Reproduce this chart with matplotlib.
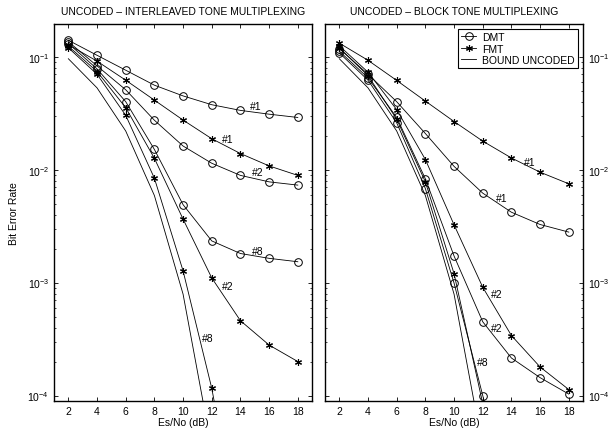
import numpy as np
import matplotlib
matplotlib.use("Agg")
import matplotlib.pyplot as plt
from matplotlib.ticker import LogLocator, NullFormatter

# ----------------------------
# Settings
# ----------------------------
plt.rcParams['font.family'] = ['Liberation Sans', 'DejaVu Sans']
plt.rcParams['mathtext.fontset'] = 'custom'
plt.rcParams['mathtext.rm'] = 'Liberation Sans'
plt.rcParams['mathtext.it'] = 'Liberation Sans:italic'
plt.rcParams['font.size'] = 7.5
FS = 7.5

# ----------------------------
# Data
# ----------------------------
snr = [2, 4, 6, 8, 10, 12, 14, 16, 18]
nan = np.nan

# bound uncoded (same in both panels)
bound = [0.096, 0.053, 0.022, 0.0059, 7.9e-4, 3.4e-5, nan, nan, nan]

# interleaved tone multiplexing
il_dmt1 = [0.140, 0.103, 0.076, 0.056, 0.045, 0.0376, 0.0335, 0.031, 0.029]
il_dmt2 = [0.136, 0.083, 0.051, 0.0274, 0.0162, 0.0114, 0.0089, 0.0078, 0.0073]
il_dmt8 = [0.131, 0.078, 0.040, 0.0151, 0.0049, 0.00234, 0.00181, 0.00164, 0.00153]
il_fmt1 = [0.128, 0.0914, 0.062, 0.0413, 0.0275, 0.0188, 0.0139, 0.0108, 0.0089]
il_fmt2 = [0.124, 0.074, 0.0354, 0.0126, 0.00365, 0.0011, 4.6e-4, 2.8e-4, 2.0e-4]
il_fmt8 = [0.120, 0.070, 0.0303, 0.0084, 0.00127, 1.16e-4, 5e-6, nan, nan]

# block tone multiplexing
bl_dmt1 = [0.118, 0.070, 0.040, 0.0209, 0.0107, 0.0062, 0.0042, 0.00327, 0.0028]
bl_dmt2 = [0.112, 0.065, 0.029, 0.0083, 0.00172, 4.5e-4, 2.15e-4, 1.44e-4, 1.03e-4]
bl_dmt8 = [0.108, 0.062, 0.026, 0.0068, 9.9e-4, 1.0e-4, 1e-5, nan, nan]
bl_fmt1 = [0.132, 0.093, 0.0617, 0.0405, 0.0267, 0.0179, 0.0127, 0.0095, 0.0075]
bl_fmt2 = [0.125, 0.073, 0.034, 0.0123, 0.00325, 9.1e-4, 3.4e-4, 1.79e-4, 1.13e-4]
bl_fmt8 = [0.120, 0.068, 0.028, 0.0078, 0.0012, 8.5e-5, 5e-6, nan, nan]

# curve labels: (x, y, text)
il_labels = [(15.1, 0.037, '#1'), (13.1, 0.0186, '#1'), (15.2, 0.0095, '#2'),
             (15.2, 0.0019, '#8'), (13.1, 9.3e-4, '#2'), (11.7, 3.2e-4, '#8')]
bl_labels = [(15.3, 0.0118, '#1'), (13.3, 0.0056, '#1'), (13.0, 8.0e-4, '#2'),
             (12.95, 4.0e-4, '#2'), (12.0, 2.0e-4, '#8')]

titles = ['UNCODED \u2013 INTERLEAVED TONE MULTIPLEXING',
          'UNCODED \u2013 BLOCK TONE MULTIPLEXING']

# ----------------------------
# Plot
# ----------------------------
fig = plt.figure(figsize=(6.16, 4.31), dpi=100)
ax1 = fig.add_axes([0.0877, 0.068, 0.419, 0.874])
ax2 = fig.add_axes([0.5276, 0.068, 0.419, 0.874])

dmt_style = dict(color='k', lw=0.6, marker='o', ms=5.5, mfc='none', mew=0.7)
# asterisk marker (MATLAB style '*')
fmt_style = dict(color='k', lw=0.6, marker=(6, 2, 0), ms=5, mew=0.8)

for ax, dmts, fmts, labels, title in [
        (ax1, [il_dmt1, il_dmt2, il_dmt8], [il_fmt1, il_fmt2, il_fmt8], il_labels, titles[0]),
        (ax2, [bl_dmt1, bl_dmt2, bl_dmt8], [bl_fmt1, bl_fmt2, bl_fmt8], bl_labels, titles[1])]:
    for i, d in enumerate(dmts):
        ax.semilogy(snr, d, label='DMT' if i == 0 else None, **dmt_style)
    for i, f in enumerate(fmts):
        ax.semilogy(snr, f, label='FMT' if i == 0 else None, **fmt_style)
    ax.semilogy(snr, bound, color='k', lw=0.6, label='BOUND UNCODED')
    for x, y, t in labels:
        ax.text(x, y, t, fontsize=FS, ha='center', va='center')

    ax.set_xlim(1, 19)
    ax.set_ylim(9e-5, 0.195)
    ax.set_xticks(snr)
    ax.yaxis.set_major_locator(LogLocator(base=10, numticks=10))
    ax.yaxis.set_minor_locator(LogLocator(base=10, subs=np.arange(2, 10), numticks=10))
    ax.yaxis.set_minor_formatter(NullFormatter())
    ax.tick_params(which='both', direction='in', top=True, right=True, labelsize=FS)
    ax.tick_params(which='major', length=3, width=0.6)
    ax.tick_params(which='minor', length=1.5, width=0.5)
    for s in ax.spines.values():
        s.set_linewidth(1.0)
    ax.set_xlabel('Es/No (dB)', fontsize=FS, labelpad=1)
    ax.set_title(title, fontsize=FS, pad=7)

ax1.set_ylabel('Bit Error Rate', fontsize=FS, labelpad=6)
ax2.tick_params(axis='y', which='both', labelleft=False, labelright=True)

leg = ax2.legend(loc='upper right', bbox_to_anchor=(0.98, 0.987), borderaxespad=0,
                 fontsize=FS, handlelength=1.4, handletextpad=0.6,
                 borderpad=0.3, labelspacing=0.15, fancybox=False,
                 edgecolor='k', framealpha=1)
leg.get_frame().set_linewidth(0.8)

plt.savefig('out.png', dpi=100)
